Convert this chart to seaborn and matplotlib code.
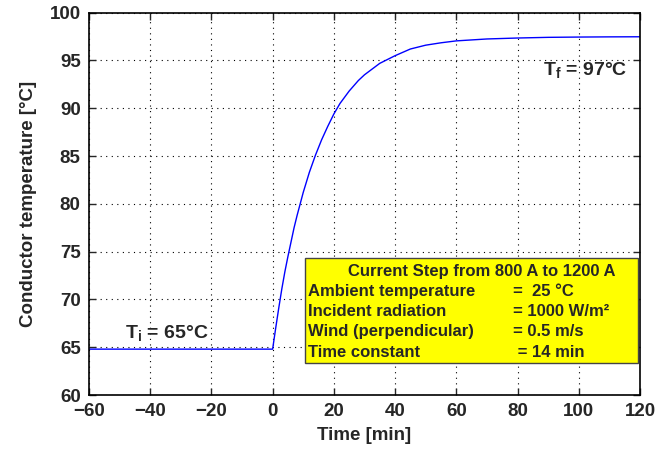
import matplotlib
matplotlib.use("Agg")
import matplotlib.pyplot as plt
from matplotlib.patches import Rectangle
import seaborn as sns
import pandas as pd

# Data
time_min = [-60, 0, 1, 2, 3, 4, 5, 6, 7, 8, 9, 10, 12, 14, 16, 18, 20, 22, 25,
            28, 30, 35, 40, 45, 50, 55, 60, 70, 80, 90, 100, 110, 120]
temp_c = [64.8, 64.8, 67.0, 69.1, 71.1, 72.9, 74.5, 76.0, 77.5, 78.8, 80.0, 81.2,
          83.3, 85.1, 86.7, 88.1, 89.4, 90.5, 91.8, 92.9, 93.5, 94.7, 95.5,
          96.2, 96.6, 96.85, 97.05, 97.25, 97.35, 97.42, 97.45, 97.47, 97.48]
x_ticks = [-60, -40, -20, 0, 20, 40, 60, 80, 100, 120]
y_ticks = [60, 65, 70, 75, 80, 85, 90, 95, 100]
box_title = "Current Step from 800 A to 1200 A"
box_names = ["Ambient temperature", "Incident radiation",
             "Wind (perpendicular)", "Time constant"]
box_values = ["=  25 °C", "= 1000 W/m²", "= 0.5 m/s", " = 14 min"]

sns.set_style("ticks")
plt.rcParams["font.family"] = ["Liberation Sans", "DejaVu Sans"]
plt.rcParams["font.weight"] = "bold"
plt.rcParams["mathtext.fontset"] = "custom"
plt.rcParams["mathtext.rm"] = "Liberation Sans:bold"
plt.rcParams["mathtext.it"] = "Liberation Sans:bold"
plt.rcParams["mathtext.bf"] = "Liberation Sans:bold"

df = pd.DataFrame({"Time": time_min, "Temp": temp_c})

fig = plt.figure(figsize=(6.68, 4.53), dpi=100)
ax = fig.add_axes([0.1332, 0.128, 0.8248, 0.844])
sns.lineplot(data=df, x="Time", y="Temp", ax=ax, color="#0000ff", linewidth=1.0)

ax.set_xlim(-60, 120)
ax.set_ylim(60, 100)
ax.set_xticks(x_ticks)
ax.set_yticks(y_ticks)
ax.set_xticklabels([str(v).replace("-", "\u2212") for v in x_ticks])
ax.grid(True, color="black", linestyle=(0, (1, 4)), linewidth=0.8)
ax.tick_params(direction="in", top=True, right=True, length=5, width=1,
               labelsize=13.5, pad=6)
for lab in ax.get_xticklabels() + ax.get_yticklabels():
    lab.set_fontweight("bold")
for s in ax.spines.values():
    s.set_linewidth(1.2)
    s.set_color("black")

ax.set_xlabel("Time [min]", fontsize=13.5, fontweight="bold", labelpad=5)
ax.set_ylabel("Conductor temperature [°C]", fontsize=13.5, fontweight="bold", labelpad=9)

ax.text(-48.3, 65.95, r"$\mathrm{T_i}$ = 65°C", fontsize=14, fontweight="bold")
ax.text(88.3, 93.5, r"$\mathrm{T_f}$ = 97°C", fontsize=14, fontweight="bold")

ax.add_patch(Rectangle((10.6, 63.35), 108.8, 10.95, facecolor="#ffff00",
                       edgecolor="#444444", linewidth=1.0, zorder=5))
ax.text(68.4, 72.95, box_title, fontsize=12, fontweight="bold",
        ha="center", va="center", zorder=6)
ys = [70.8, 68.7, 66.6, 64.5]
for yv, name, val in zip(ys, box_names, box_values):
    ax.text(11.6, yv, name, fontsize=12, fontweight="bold", va="center", zorder=6)
    ax.text(78.6, yv, val, fontsize=12, fontweight="bold", va="center", zorder=6)

fig.savefig("out.png", dpi=100)
